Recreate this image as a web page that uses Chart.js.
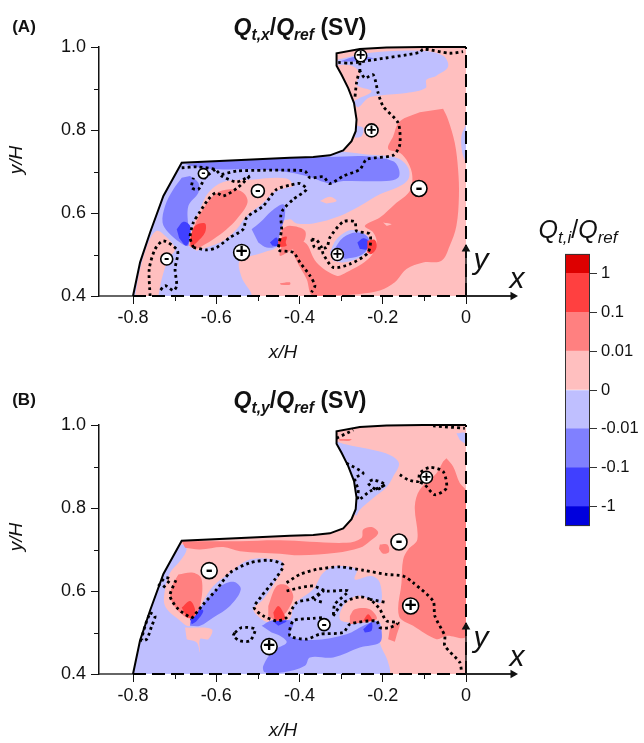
<!DOCTYPE html>
<html>
<head>
<meta charset="utf-8">
<title>Qt,i/Qref</title>
<script src="https://cdn.jsdelivr.net/npm/chart.js@4/dist/chart.umd.min.js"></script>
<style>
html,body{margin:0;padding:0;background:#fff;}
#page{position:relative;width:644px;height:743px;overflow:hidden;font-family:"Liberation Sans",Arial,sans-serif;color:#111;}
canvas{position:absolute;}
.t{position:absolute;transform:translate(-50%,-50%);white-space:nowrap;line-height:1;}
.t sub{font-size:.68em;vertical-align:baseline;position:relative;top:.3em;}
.panel{font-size:17px;font-weight:bold;}
.title{font-size:23px;font-weight:bold;}
.ax{font-size:19px;font-style:italic;}
.big{font-size:30px;font-style:italic;}
.rot{transform:translate(-50%,-50%) rotate(-90deg);}
</style>
</head>
<body>
<div id="page">
<canvas id="chartA" width="644" height="362" style="left:0;top:0"></canvas>
<canvas id="chartB" width="644" height="362" style="left:0;top:378px"></canvas>
<canvas id="chartBar" width="144" height="300" style="left:500px;top:240px"></canvas>

<div class="t panel" style="left:24px;top:26px">(A)</div>
<div class="t title" style="left:300px;top:27px"><i>Q<sub>t,x</sub></i>/<i>Q<sub>ref</sub></i> (SV)</div>
<div class="t ax" style="left:283px;top:351px">x/H</div>
<div class="t ax rot" style="left:15px;top:160px">y/H</div>
<div class="t big" style="left:481px;top:259px">y</div>
<div class="t big" style="left:517px;top:278px">x</div>

<div class="t panel" style="left:24px;top:399px">(B)</div>
<div class="t title" style="left:300px;top:400px"><i>Q<sub>t,y</sub></i>/<i>Q<sub>ref</sub></i> (SV)</div>
<div class="t ax" style="left:283px;top:729px">x/H</div>
<div class="t ax rot" style="left:15px;top:537px">y/H</div>
<div class="t big" style="left:481px;top:637px">y</div>
<div class="t big" style="left:517px;top:656px">x</div>

<div class="t" style="left:578px;top:229px;font-size:25px"><i>Q<sub>t,i</sub></i>/<i>Q<sub>ref</sub></i></div>
</div>

<script>
// axes
var xTicks = [-0.8,-0.7,-0.6,-0.5,-0.4,-0.3,-0.2,-0.1,0];
var xMajor = [-0.8,-0.6,-0.4,-0.2,0];
var yTicks = [0.4,0.5,0.6,0.7,0.8,0.9,1.0];
var yMajor = [0.4,0.6,0.8,1.0];

// colour levels, same as the colour bar
var cDarkRed='#dd0000', cRed='#ff4040', cMidRed='#ff8080', cPink='#ffbfbf';
var cLight='#bfbfff', cMid='#8080ff', cBlue='#4040ff', cDarkBlue='#0000dd';

var colorBins = [[-3.5,-3],[-3,-2],[-2,-1],[-1,0],[0,1],[1,2],[2,3],[3,3.5]];
var colorFills = [cDarkBlue,cBlue,cMid,cLight,cPink,cMidRed,cRed,cDarkRed];
var colorTicks = [-3,-2,-1,0,1,2,3];
var colorLabels = ['-1','-0.1','-0.01','0','0.01','0.1','1'];

// wall outline of the cavity
var wall = [[-0.8,0.4],[-0.783,0.481],[-0.759,0.553],[-0.727,0.641],[-0.683,0.721],[-0.423,0.733],[-0.367,0.735],[-0.327,0.739],[-0.295,0.751],[-0.275,0.773],[-0.265,0.797],[-0.263,0.825],[-0.269,0.865],[-0.283,0.901],[-0.299,0.933],[-0.311,0.955],[-0.311,0.985],[-0.255,0.995],[-0.191,0.999],[-0.103,1.0],[0,1.0]];
var domain = wall.concat([[0,0.4]]);

// panel A regions, painted in this order
var aLight = [[-0.70,0.75],[-0.327,0.75],[-0.239,0.741],[-0.167,0.733],[-0.139,0.709],[-0.139,0.681],[-0.167,0.661],[-0.207,0.645],[-0.255,0.617],[-0.303,0.593],[-0.367,0.575],[-0.407,0.575],[-0.423,0.585],[-0.447,0.573],[-0.451,0.521],[-0.487,0.505],[-0.543,0.485],[-0.539,0.445],[-0.519,0.4],[-0.85,0.4],[-0.85,0.75]];
var aLightTop = [[-0.309,0.969],[-0.239,0.985],[-0.111,0.991],[-0.055,0.979],[-0.043,0.953],[-0.071,0.931],[-0.095,0.921],[-0.097,0.901],[-0.143,0.889],[-0.207,0.883],[-0.235,0.877],[-0.259,0.855],[-0.269,0.869],[-0.227,0.893],[-0.263,0.909],[-0.255,0.937],[-0.275,0.955],[-0.309,0.957]];
var aLightEdge = [[0,0.813],[-0.011,0.785],[-0.009,0.745],[0,0.721]];
var aLightWall = [[-0.263,0.811],[-0.247,0.805],[-0.251,0.785],[-0.267,0.781]];
var aMidTop = [[-0.303,0.965],[-0.263,0.977],[-0.223,0.973],[-0.255,0.965]];
var aPinkLobe = [[-0.795,0.4],[-0.783,0.465],[-0.763,0.529],[-0.743,0.557],[-0.723,0.545],[-0.699,0.513],[-0.715,0.489],[-0.731,0.441],[-0.739,0.4]];
var aPinkBlob = [[-0.667,0.521],[-0.659,0.561],[-0.639,0.609],[-0.619,0.649],[-0.583,0.675],[-0.511,0.681],[-0.431,0.683],[-0.415,0.665],[-0.431,0.661],[-0.463,0.649],[-0.487,0.625],[-0.527,0.593],[-0.551,0.561],[-0.583,0.533],[-0.623,0.517],[-0.647,0.509]];
var aPinkSpot = [[-0.351,0.629],[-0.327,0.639],[-0.311,0.629],[-0.335,0.623]];
var aMidBand = [[-0.675,0.717],[-0.631,0.721],[-0.423,0.733],[-0.327,0.735],[-0.239,0.737],[-0.175,0.725],[-0.161,0.705],[-0.163,0.685],[-0.191,0.677],[-0.295,0.677],[-0.327,0.671],[-0.383,0.689],[-0.447,0.701],[-0.503,0.705],[-0.583,0.705],[-0.631,0.707]];
var aMidLeft = [[-0.663,0.689],[-0.643,0.673],[-0.643,0.649],[-0.667,0.617],[-0.667,0.561],[-0.667,0.521],[-0.687,0.529],[-0.715,0.553],[-0.729,0.577],[-0.723,0.617],[-0.703,0.657],[-0.683,0.685]];
var aMidRight = [[-0.515,0.561],[-0.495,0.577],[-0.467,0.605],[-0.439,0.621],[-0.435,0.593],[-0.447,0.553],[-0.455,0.521],[-0.479,0.517],[-0.499,0.529]];
var aBlueLeft = [[-0.695,0.561],[-0.679,0.579],[-0.663,0.569],[-0.665,0.533],[-0.673,0.521],[-0.689,0.539]];
var aBlueRight = [[-0.471,0.529],[-0.455,0.541],[-0.451,0.521],[-0.465,0.521]];
var aRedBlob = [[-0.665,0.521],[-0.655,0.561],[-0.639,0.597],[-0.603,0.645],[-0.567,0.657],[-0.535,0.649],[-0.525,0.625],[-0.551,0.585],[-0.575,0.561],[-0.607,0.537],[-0.647,0.513]];
var aHotBlob = [[-0.663,0.537],[-0.651,0.569],[-0.627,0.575],[-0.627,0.553],[-0.647,0.529],[-0.661,0.517]];
var aRedBig = [[-0.055,0.851],[-0.043,0.825],[-0.027,0.769],[-0.019,0.705],[-0.017,0.641],[-0.023,0.569],[-0.039,0.521],[-0.059,0.485],[-0.103,0.481],[-0.143,0.465],[-0.171,0.433],[-0.207,0.413],[-0.255,0.405],[-0.367,0.4],[-0.383,0.441],[-0.407,0.485],[-0.415,0.513],[-0.387,0.529],[-0.359,0.481],[-0.311,0.449],[-0.287,0.457],[-0.231,0.493],[-0.215,0.529],[-0.223,0.553],[-0.243,0.569],[-0.207,0.589],[-0.171,0.621],[-0.135,0.653],[-0.129,0.689],[-0.139,0.721],[-0.159,0.745],[-0.187,0.755],[-0.175,0.785],[-0.159,0.821],[-0.111,0.843]];
var aRedLobe = [[-0.443,0.561],[-0.423,0.569],[-0.387,0.557],[-0.391,0.529],[-0.423,0.509],[-0.447,0.497],[-0.443,0.521]];
var aHotLobe = [[-0.451,0.537],[-0.431,0.543],[-0.433,0.529],[-0.431,0.521],[-0.451,0.517]];
var aRedStrip = [[-0.447,0.431],[-0.423,0.433],[-0.423,0.427],[-0.445,0.427]];
var aPinkFleck = [[-0.199,0.577],[-0.179,0.573],[-0.191,0.569]];
var aLightCell = [[-0.327,0.505],[-0.311,0.537],[-0.275,0.559],[-0.235,0.543],[-0.237,0.511],[-0.255,0.493],[-0.295,0.481],[-0.319,0.485]];
var aMidCell = [[-0.319,0.509],[-0.295,0.541],[-0.263,0.553],[-0.235,0.541],[-0.237,0.513],[-0.255,0.497],[-0.291,0.489]];
var aBlueCell = [[-0.261,0.529],[-0.247,0.539],[-0.235,0.533],[-0.237,0.513],[-0.255,0.513]];
var aHotCell = [[-0.237,0.533],[-0.219,0.535],[-0.215,0.517],[-0.227,0.501],[-0.237,0.505]];

// panel A dotted contours
var aDot1 = [[-0.683,0.709],[-0.647,0.711],[-0.603,0.705],[-0.587,0.689],[-0.551,0.675],[-0.519,0.689]];
var aDot2 = [[-0.587,0.693],[-0.551,0.701],[-0.487,0.703],[-0.423,0.703],[-0.387,0.701],[-0.375,0.685],[-0.343,0.687],[-0.327,0.671],[-0.295,0.689],[-0.255,0.705],[-0.239,0.729],[-0.175,0.739],[-0.159,0.765],[-0.163,0.817],[-0.199,0.857],[-0.211,0.889],[-0.223,0.933],[-0.243,0.925],[-0.255,0.941],[-0.263,0.913],[-0.267,0.877]];
var aDot3 = [[-0.307,0.963],[-0.279,0.961],[-0.223,0.969],[-0.111,0.987],[-0.103,0.995],[-0.039,0.985],[-0.007,0.989]];
var aDot4 = [[-0.255,0.941],[-0.255,0.965]];
var aDot5 = [[-0.655,0.517],[-0.623,0.511],[-0.599,0.517],[-0.567,0.541],[-0.535,0.561],[-0.527,0.589],[-0.487,0.617],[-0.455,0.657],[-0.423,0.667],[-0.399,0.671],[-0.383,0.657],[-0.415,0.633],[-0.439,0.609],[-0.445,0.593],[-0.443,0.561],[-0.451,0.513],[-0.447,0.509],[-0.415,0.505],[-0.399,0.481],[-0.375,0.449],[-0.363,0.425],[-0.371,0.409]];
var aDot6 = [[-0.655,0.517],[-0.663,0.541],[-0.655,0.577],[-0.639,0.603],[-0.619,0.633],[-0.601,0.649],[-0.583,0.641],[-0.551,0.659],[-0.519,0.689]];
var aDot7 = [[-0.603,0.705],[-0.627,0.685],[-0.643,0.657],[-0.659,0.661],[-0.655,0.685]];
var aDot8 = [[-0.759,0.4],[-0.761,0.465],[-0.747,0.513],[-0.727,0.533],[-0.693,0.509],[-0.699,0.465],[-0.695,0.425],[-0.703,0.413],[-0.723,0.425],[-0.735,0.413]];
var aDot9 = [[-0.371,0.537],[-0.359,0.535],[-0.347,0.517],[-0.343,0.501],[-0.319,0.469],[-0.279,0.477],[-0.235,0.505],[-0.231,0.549],[-0.263,0.557],[-0.267,0.579],[-0.295,0.579],[-0.327,0.541],[-0.335,0.517],[-0.363,0.517],[-0.371,0.537]];

// panel A sign markers: x, y, radius
var aPlus = [[-0.253,0.979,6],[-0.227,0.799,6.5],[-0.309,0.5,6],[-0.539,0.505,8]];
var aMinus = [[-0.113,0.659,8],[-0.5,0.653,6.5],[-0.631,0.695,5],[-0.719,0.489,6]];

// panel B regions
var bRedTop = [[-0.683,0.72],[-0.543,0.72],[-0.447,0.722],[-0.287,0.716],[-0.251,0.728],[-0.247,0.748],[-0.227,0.754],[-0.211,0.74],[-0.231,0.72],[-0.255,0.704],[-0.311,0.692],[-0.399,0.686],[-0.447,0.69],[-0.543,0.696],[-0.583,0.706],[-0.639,0.7],[-0.675,0.704]];
var bRedSpot = [[-0.207,0.712],[-0.189,0.712],[-0.185,0.694],[-0.199,0.69],[-0.209,0.702]];
var bLight = [[-0.679,0.712],[-0.671,0.7],[-0.687,0.672],[-0.711,0.644],[-0.723,0.604],[-0.723,0.564],[-0.691,0.532],[-0.663,0.516],[-0.631,0.576],[-0.607,0.612],[-0.567,0.644],[-0.519,0.676],[-0.447,0.674],[-0.439,0.66],[-0.455,0.628],[-0.487,0.58],[-0.511,0.556],[-0.491,0.532],[-0.471,0.524],[-0.423,0.534],[-0.415,0.564],[-0.399,0.58],[-0.367,0.604],[-0.343,0.644],[-0.311,0.66],[-0.263,0.652],[-0.267,0.628],[-0.227,0.636],[-0.207,0.62],[-0.205,0.572],[-0.231,0.58],[-0.263,0.588],[-0.295,0.564],[-0.303,0.532],[-0.279,0.524],[-0.211,0.528],[-0.203,0.504],[-0.207,0.476],[-0.187,0.428],[-0.187,0.4],[-0.85,0.4],[-0.85,0.7]];
var bLightTop = [[-0.319,0.968],[-0.311,0.96],[-0.275,0.95],[-0.223,0.94],[-0.183,0.928],[-0.161,0.908],[-0.175,0.876],[-0.191,0.85],[-0.223,0.824],[-0.255,0.796],[-0.265,0.782],[-0.287,0.836]];
var bLightCorner = [[-0.023,0.98],[0,0.98],[0,0.956],[-0.015,0.964]];
var bRedFleck = [[-0.307,0.966],[-0.275,0.966],[-0.279,0.962],[-0.303,0.962]];
var bPinkSpot = [[-0.675,0.512],[-0.611,0.508],[-0.619,0.484],[-0.639,0.484],[-0.639,0.452],[-0.647,0.476],[-0.671,0.484]];
var bRedBig = [[-0.047,0.92],[-0.031,0.9],[-0.015,0.86],[0,0.84],[0,0.492],[-0.047,0.492],[-0.071,0.484],[-0.127,0.516],[-0.161,0.54],[-0.155,0.62],[-0.151,0.676],[-0.139,0.7],[-0.117,0.724],[-0.123,0.804],[-0.111,0.844],[-0.071,0.884],[-0.055,0.912]];
var bMidLobe = [[-0.663,0.524],[-0.631,0.568],[-0.595,0.608],[-0.559,0.622],[-0.541,0.604],[-0.567,0.564],[-0.607,0.536],[-0.639,0.516],[-0.663,0.516]];
var bBlueLobe = [[-0.663,0.532],[-0.643,0.556],[-0.631,0.552],[-0.647,0.528],[-0.659,0.52]];
var bRedLobe1 = [[-0.691,0.64],[-0.655,0.644],[-0.635,0.628],[-0.639,0.564],[-0.655,0.536],[-0.671,0.536],[-0.695,0.556],[-0.711,0.588],[-0.703,0.62]];
var bHotLobe1 = [[-0.683,0.56],[-0.663,0.576],[-0.651,0.556],[-0.655,0.536],[-0.671,0.536]];
var bRedLobe2 = [[-0.475,0.564],[-0.455,0.612],[-0.431,0.614],[-0.415,0.588],[-0.427,0.556],[-0.447,0.532],[-0.455,0.528],[-0.475,0.54]];
var bHotLobe2 = [[-0.463,0.548],[-0.451,0.564],[-0.439,0.548],[-0.435,0.532],[-0.459,0.528]];
var bMidBand = [[-0.491,0.516],[-0.471,0.528],[-0.447,0.532],[-0.415,0.524],[-0.423,0.492],[-0.367,0.482],[-0.287,0.496],[-0.239,0.52],[-0.213,0.526],[-0.203,0.504],[-0.207,0.476],[-0.255,0.464],[-0.319,0.44],[-0.375,0.44],[-0.387,0.42],[-0.439,0.404],[-0.483,0.404],[-0.487,0.42],[-0.463,0.456],[-0.431,0.476],[-0.447,0.492],[-0.467,0.5]];
var bBlueBand1 = [[-0.465,0.528],[-0.431,0.528],[-0.451,0.516]];
var bBlueBand2 = [[-0.247,0.508],[-0.227,0.524],[-0.227,0.504],[-0.243,0.5]];
var bRedCell = [[-0.279,0.54],[-0.267,0.556],[-0.231,0.556],[-0.215,0.532],[-0.279,0.52]];
var bHotCell = [[-0.247,0.528],[-0.235,0.544],[-0.223,0.528]];
var bRedTail = [[-0.187,0.484],[-0.179,0.516],[-0.159,0.524],[-0.167,0.492],[-0.171,0.478]];

// panel B dotted contours
var bDot1 = [[-0.659,0.534],[-0.631,0.568],[-0.599,0.604],[-0.567,0.644],[-0.519,0.668],[-0.471,0.674],[-0.439,0.662],[-0.459,0.628],[-0.491,0.588],[-0.509,0.56],[-0.487,0.54],[-0.455,0.528],[-0.431,0.536],[-0.407,0.572],[-0.375,0.58],[-0.343,0.6],[-0.363,0.58],[-0.343,0.572]];
var bDot2 = [[-0.431,0.62],[-0.399,0.64],[-0.359,0.652],[-0.303,0.658],[-0.247,0.65],[-0.191,0.64],[-0.151,0.636],[-0.127,0.62],[-0.079,0.576],[-0.075,0.54],[-0.051,0.492],[-0.051,0.468],[-0.015,0.428],[-0.011,0.408]];
var bDot3 = [[-0.431,0.6],[-0.399,0.608],[-0.367,0.612],[-0.335,0.6],[-0.283,0.6],[-0.315,0.568],[-0.319,0.54]];
var bDot4 = [[-0.319,0.54],[-0.295,0.572],[-0.255,0.586],[-0.231,0.58],[-0.207,0.556],[-0.191,0.528],[-0.163,0.524],[-0.183,0.512],[-0.207,0.512],[-0.215,0.528],[-0.279,0.52],[-0.295,0.5],[-0.351,0.496],[-0.383,0.484],[-0.423,0.492],[-0.415,0.528],[-0.367,0.534],[-0.343,0.536]];
var bDot5 = [[-0.231,0.58],[-0.191,0.572]];
var bDot6 = [[-0.739,0.612],[-0.723,0.632],[-0.711,0.628],[-0.731,0.604]];
var bDot7 = [[-0.697,0.626],[-0.711,0.588],[-0.691,0.556],[-0.659,0.534]];
var bDot8 = [[-0.759,0.548],[-0.747,0.54],[-0.755,0.516],[-0.767,0.484],[-0.779,0.48],[-0.771,0.516],[-0.759,0.548]];
var bDot9 = [[-0.555,0.5],[-0.539,0.512],[-0.507,0.508],[-0.519,0.48],[-0.543,0.48],[-0.559,0.492],[-0.555,0.5]];
var bDot10 = [[-0.311,0.968],[-0.271,0.988]];
var bDot11 = [[-0.079,0.998],[-0.003,0.992]];
var bDot12 = [[-0.159,0.88],[-0.139,0.868],[-0.115,0.864],[-0.111,0.884],[-0.087,0.898],[-0.055,0.888],[-0.047,0.848],[-0.075,0.832],[-0.099,0.856],[-0.115,0.864]];
var bDot13 = [[-0.287,0.908],[-0.247,0.884],[-0.267,0.872],[-0.259,0.844],[-0.259,0.82],[-0.231,0.84],[-0.195,0.856],[-0.223,0.868],[-0.235,0.86],[-0.215,0.844],[-0.195,0.856]];

var bPlus = [[-0.095,0.874,6],[-0.133,0.564,8],[-0.473,0.466,8]];
var bMinus = [[-0.161,0.718,8],[-0.617,0.649,8],[-0.341,0.519,6]];

var axisLeftX = -0.8817, axisRightX = 0.1129;
var axisLeft = [[axisLeftX,0.4],[-0.8,0.4]];
var axisInner = [[-0.8,0.4],[0,0.4]];
var axisRight = [[0,0.4],[axisRightX,0.4]];
var symmetry = [[0,0.4],[0,1.0]];
var yArrow = [[0,0.4],[0,0.513]];

function pts(list){
    return list.map(function(p){ return {x:p[0],y:p[1]} })
}

function region(list,color){
    return {data:pts(list),backgroundColor:color,borderColor:color,borderWidth:0,fill:'shape',pointRadius:0,tension:0.35}
}

function dotted(list){
    return {data:pts(list),isStroke:true,borderColor:'#000',borderWidth:2.8,borderDash:[2.8,3.2],fill:false,pointRadius:0,tension:0.25,clip:false}
}

function stroke(list,width,dash,color){
    return {data:pts(list),isStroke:true,borderColor:color||'#000',borderWidth:width,borderDash:dash||[],fill:false,pointRadius:0,tension:0,clip:false}
}

function arrow(list,rotation){
    var last = list.length-1
    return {data:pts(list),isStroke:true,borderColor:'#111',borderWidth:1.5,fill:false,tension:0,clip:false,
        pointStyle:'triangle',rotation:rotation,backgroundColor:'#111',borderDash:[],
        pointBorderWidth:0,pointRadius:function(c){ return c.dataIndex==last ? 5 : 0 }}
}

function markers(list){
    return {data:pts(list),isStroke:true,showLine:false,fill:false,pointStyle:'circle',backgroundColor:'#fff',pointBorderColor:'#000',pointBorderWidth:1.6,
        pointRadius:list.map(function(p){ return p[2] }),clip:false}
}

// clip the filled regions to the cavity, the strokes go on top unclipped
var cavityClip = {
    id:'cavityClip',
    beforeDatasetsDraw:function(chart){
        var x = chart.scales.x, y = chart.scales.y, ctx = chart.ctx
        ctx.save()
        ctx.beginPath()
        domain.forEach(function(p,i){
            var px = x.getPixelForValue(p[0]), py = y.getPixelForValue(p[1])
            if(i==0) ctx.moveTo(px,py); else ctx.lineTo(px,py)
        })
        ctx.closePath()
        ctx.clip()
        chart.$clipped = true
    },
    beforeDatasetDraw:function(chart,args){
        if(chart.$clipped && chart.data.datasets[args.index].isStroke){
            chart.ctx.restore()
            chart.$clipped = false
        }
    }
}

// short unlabelled ticks, and the + / - signs on the markers
var extras = {
    id:'extras',
    afterDraw:function(chart){
        var ctx = chart.ctx, x = chart.scales.x, y = chart.scales.y
        ctx.save()
        ctx.strokeStyle = '#111'
        ctx.lineWidth = 1
        xTicks.forEach(function(v){
            if(xMajor.indexOf(v) >= 0) return
            var px = Math.round(x.getPixelForValue(v))+0.5
            ctx.beginPath(); ctx.moveTo(px,chart.chartArea.bottom); ctx.lineTo(px,chart.chartArea.bottom+5); ctx.stroke()
        })
        yTicks.forEach(function(v){
            if(yMajor.indexOf(v) >= 0) return
            var py = Math.round(y.getPixelForValue(v))+0.5
            ctx.beginPath(); ctx.moveTo(chart.chartArea.left,py); ctx.lineTo(chart.chartArea.left-5,py); ctx.stroke()
        })
        ctx.fillStyle = '#000'
        ctx.textAlign = 'center'
        ctx.textBaseline = 'middle'
        function sign(list,txt){
            list.forEach(function(p){
                ctx.font = 'bold '+Math.round(p[2]*2.6)+'px "Liberation Sans"'
                ctx.fillText(txt,x.getPixelForValue(p[0]),y.getPixelForValue(p[1])+(txt=='+'?0:-0.5))
            })
        }
        sign(chart.options.plugins.extras.plus,'+')
        sign(chart.options.plugins.extras.minus,'-')
        ctx.restore()
    }
}

function createChart(id,fills,dots,plus,minus){
    // chart.js paints the last dataset first, so the list is reversed
    var sets = [region(domain,cPink)].concat(fills)
        .concat([stroke(axisLeft,1.5,[],'#333'),stroke(axisRight,1.5,[],'#555'),stroke(axisInner,2,[13,6]),stroke(symmetry,2,[13,6])])
        .concat(dots)
        .concat([stroke(wall,2),arrow(yArrow,0),arrow(axisRight,90),markers(plus),markers(minus)])
    return new Chart(document.getElementById(id),{
        type:'line',
        data:{datasets:sets.reverse()},
        plugins:[cavityClip,extras],
        options:{
            responsive:false,
            animation:false,
            layout:{padding:{top:47,right:131,left:0,bottom:0}},
            plugins:{legend:{display:false},tooltip:{enabled:false},extras:{plus:plus,minus:minus}},
            scales:{
                x:{
                    type:'linear',min:axisLeftX,max:axisRightX,
                    afterBuildTicks:function(s){ s.ticks = xTicks.map(function(v){ return {value:v} }) },
                    afterFit:function(s){ s.height = 66 },
                    border:{display:false},
                    grid:{drawOnChartArea:false,tickLength:8,tickColor:function(c){ return xMajor.indexOf(c.tick.value)>=0 ? '#111' : 'transparent' }},
                    ticks:{autoSkip:false,maxRotation:0,color:'#111',padding:3,font:{family:'"Liberation Sans"',size:18},
                        callback:function(v){ return xMajor.indexOf(v)<0 ? '' : (v==0 ? '0' : v.toFixed(1)) }}
                },
                y:{
                    type:'linear',min:0.4,max:1.0,
                    afterBuildTicks:function(s){ s.ticks = yTicks.map(function(v){ return {value:v} }) },
                    afterFit:function(s){ s.width = 99 },
                    border:{display:true,color:'#111',width:1.5},
                    grid:{drawOnChartArea:false,tickLength:8,tickColor:function(c){ return yMajor.indexOf(c.tick.value)>=0 ? '#111' : 'transparent' }},
                    ticks:{autoSkip:false,color:'#111',padding:5,font:{family:'"Liberation Sans"',size:18},
                        callback:function(v){ return yMajor.indexOf(v)<0 ? '' : v.toFixed(1) }}
                }
            }
        }
    })
}

var chartA = createChart('chartA',[
    region(aLight,cLight),region(aLightTop,cLight),region(aLightEdge,cLight),region(aLightWall,cLight),region(aMidTop,cMid),
    region(aPinkLobe,cPink),region(aPinkBlob,cPink),region(aPinkSpot,cPink),
    region(aMidBand,cMid),region(aMidLeft,cMid),region(aMidRight,cMid),region(aBlueLeft,cBlue),region(aBlueRight,cBlue),
    region(aRedBlob,cMidRed),region(aHotBlob,cRed),
    region(aRedBig,cMidRed),region(aRedLobe,cMidRed),region(aHotLobe,cRed),region(aRedStrip,cMidRed),region(aPinkFleck,cPink),
    region(aLightCell,cLight),region(aMidCell,cMid),region(aBlueCell,cBlue),region(aHotCell,cRed)
],[aDot1,aDot2,aDot3,aDot4,aDot5,aDot6,aDot7,aDot8,aDot9].map(dotted),aPlus,aMinus)

var chartB = createChart('chartB',[
    region(bLight,cLight),region(bLightTop,cLight),region(bLightCorner,cLight),region(bRedFleck,cMidRed),region(bPinkSpot,cPink),
    region(bRedTop,cMidRed),region(bRedSpot,cMidRed),region(bRedBig,cMidRed),
    region(bMidLobe,cMid),region(bBlueLobe,cBlue),region(bRedLobe1,cMidRed),region(bHotLobe1,cRed),
    region(bMidBand,cMid),region(bBlueBand1,cBlue),region(bRedLobe2,cMidRed),region(bHotLobe2,cRed),
    region(bRedCell,cMidRed),region(bBlueBand2,cBlue),region(bHotCell,cRed),region(bRedTail,cMidRed)
],[bDot1,bDot2,bDot3,bDot4,bDot5,bDot6,bDot7,bDot8,bDot9,bDot10,bDot11,bDot12,bDot13].map(dotted),bPlus,bMinus)

// colour bar
var barFrame = {
    id:'barFrame',
    afterDraw:function(chart){
        var a = chart.chartArea, ctx = chart.ctx
        ctx.save()
        ctx.strokeStyle = '#333'
        ctx.lineWidth = 1
        ctx.strokeRect(a.left+0.5,a.top+0.5,a.right-a.left-1,a.bottom-a.top-1)
        ctx.restore()
    }
}

var chartBar = new Chart(document.getElementById('chartBar'),{
    type:'bar',
    data:{
        labels:['Qt,i/Qref'],
        datasets:colorBins.map(function(b,i){
            return {data:[b],backgroundColor:colorFills[i],barPercentage:1,categoryPercentage:1,borderWidth:0}
        })
    },
    plugins:[barFrame],
    options:{
        responsive:false,
        animation:false,
        layout:{padding:{top:12,bottom:11,left:65,right:0}},
        plugins:{legend:{display:false},tooltip:{enabled:false}},
        scales:{
            x:{display:false,stacked:true},
            y:{
                position:'right',min:-3.5,max:3.5,
                afterBuildTicks:function(s){ s.ticks = colorTicks.map(function(v){ return {value:v} }) },
                afterFit:function(s){ s.width = 54 },
                border:{display:false},
                grid:{drawOnChartArea:false,tickLength:7,tickColor:'#333'},
                ticks:{autoSkip:false,color:'#111',padding:4,font:{family:'"Liberation Sans"',size:16.5},
                    callback:function(v){ return colorLabels[colorTicks.indexOf(v)] }}
            }
        }
    }
})
</script>
</body>
</html>
